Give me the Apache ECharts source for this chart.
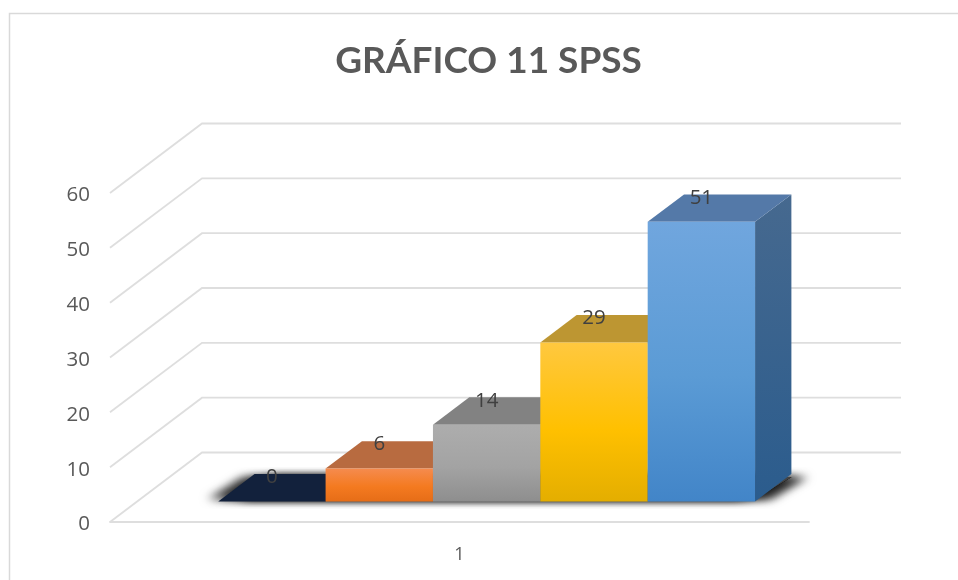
<!DOCTYPE html>
<html><head><meta charset="utf-8">
<style>html,body{margin:0;padding:0;background:#fff}#c{width:958px;height:580px}</style>
<script src="https://cdn.jsdelivr.net/npm/echarts@6/dist/echarts.min.js"></script>
</head><body><div id="c"></div>
<script>
const chartTitle = 'GRÁFICO 11 SPSS';
const categories = ['1'];
const values = [0, 6, 14, 29, 51];
const yTicks = [0, 10, 20, 30, 40, 50, 60];

const FONT = '"Open Sans", sans-serif';
const WALL = [92, -69.5];           // floor depth vector, in pixels
const FRONT_F = 0.295, BAR_F = 0.395, GROUP_F = 0.768;
const faces = [
  {front:['#12213c','#12213c','#12213c'], top:'#12213c', side:'#0d1a30'},
  {front:['#f58b4e','#f47a20','#e66d17'], top:'#b86b40', side:'#a85a2c'},
  {front:['#adadad','#a3a3a3','#8e8e8e'], top:'#828282', side:'#6f6f6f'},
  {front:['#ffc83f','#ffc000','#e4ae00'], top:'#bd9632', side:'#a98420'},
  {front:['#70a6de','#5b9bd5','#4285c8'], top:'#5479a8', side:['#46698f','#2b5c8d']}
];
const vGrad = s => ({type:'linear',x:0,y:0,x2:0,y2:1,colorStops:
  s.length===3 ? [{offset:0,color:s[0]},{offset:.55,color:s[1]},{offset:1,color:s[2]}]
               : [{offset:0,color:s[0]},{offset:1,color:s[1]}]});

function renderWall(params, api){
  const a = api.coord([0, api.value(0)]);
  const half = api.size([1,0])[0]/2;
  const x0 = a[0]-half, y = a[1];
  return {type:'polyline', silent:true, shape:{points:[
      [x0,y],[x0+WALL[0],y+WALL[1]],[x0+WALL[0]+2*half,y+WALL[1]]]},
    style:{stroke:'#dedede',lineWidth:1.8,fill:null}};
}
function renderBar(params, api){
  const i = api.value(2), v = api.value(1), f = faces[i];
  const base = api.coord([0,0]), top = api.coord([0,v]);
  const band = api.size([1,0])[0], w = band*GROUP_F/values.length;
  const left = base[0]-band*GROUP_F/2 + i*w + WALL[0]*FRONT_F;
  const yb = base[1]+WALL[1]*FRONT_F, yt = top[1]+WALL[1]*FRONT_F;
  const dx = WALL[0]*BAR_F, dy = WALL[1]*BAR_F;
  const ch = [];
  ch.push({type:'polygon',shape:{points:[[left+w,yb],[left+w+dx,yb+dy],[left+w+dx,yt+dy],[left+w,yt]]},
    style:{fill:Array.isArray(f.side)?vGrad(f.side):f.side}});
  ch.push({type:'polygon',shape:{points:[[left,yt],[left+w,yt],[left+w+dx,yt+dy],[left+dx,yt+dy]]},style:{fill:f.top}});
  if (v>0) ch.push({type:'rect',shape:{x:left,y:yt,width:w,height:yb-yt},style:{fill:vGrad(f.front)}});
  ch.push({type:'text',z2:50,style:{text:String(v),x:left+w/2,y:yt-24,align:'center',verticalAlign:'middle',
     font:'20.5px '+FONT,fill:'#404040'}});
  return {type:'group',children:ch};
}
function renderShadow(params, api){
  const base = api.coord([0,0]), band = api.size([1,0])[0];
  const l = base[0]-band*GROUP_F/2+WALL[0]*FRONT_F, r = l+band*GROUP_F;
  const yb = base[1]+WALL[1]*FRONT_F, dx = WALL[0]*BAR_F, dy = WALL[1]*BAR_F;
  const pts = [[l+8,yb-2.5],[r,yb-2.5],[r+dx,yb+dy+3],[l+dx+6,yb+dy+3]];
  const layer = off => ({type:'polygon',silent:true,shape:{points:pts},
    style:{fill:'#444',shadowBlur:9,shadowOffsetX:off,shadowColor:'rgba(0,0,0,.5)'}});
  return {type:'group',children:[layer(-20),layer(-13),layer(-6),layer(6),layer(13),layer(18)]};
}
const chart = echarts.init(document.getElementById('c'),null,{renderer:'canvas'});
chart.setOption({
  animation:false,
  backgroundColor:'#fff',
  title:{text:chartTitle,left:483.5,top:38,textAlign:'center',
    textStyle:{fontFamily:'Lato, sans-serif',fontSize:37,fontWeight:'bold',color:'#595959'}},
  grid:{left:110,right:149,top:193,bottom:58},
  xAxis:{type:'category',data:categories,axisTick:{show:false},
    axisLine:{lineStyle:{color:'#dedede',width:1.8}},
    axisLabel:{fontFamily:FONT,fontSize:18,color:'#595959',margin:24}},
  yAxis:{type:'value',min:0,max:60,interval:10,splitLine:{show:false},axisLine:{show:false},axisTick:{show:false},
    axisLabel:{margin:20,formatter:'{a|{value}}',
      rich:{a:{fontFamily:FONT,fontSize:20.5,color:'#595959',padding:[5,0,0,0]}}}},
  graphic:[{type:'rect',z:-1,silent:true,shape:{x:9.5,y:13.5,width:1000,height:1000},
    style:{fill:'none',stroke:'#d9d9d9',lineWidth:1.5}}],
  series:[
    {type:'custom',clip:false,z:1,renderItem:renderWall,data:yTicks.map(t=>[t]),encode:{y:0}},
    {type:'custom',clip:false,z:2,renderItem:renderShadow,data:[[categories[0],0]],encode:{x:0,y:1}},
    {type:'custom',clip:false,z:3,renderItem:renderBar,
      data:values.map((v,i)=>[categories[0],v,i]),encode:{x:0,y:1}}
  ]
});
</script></body></html>
